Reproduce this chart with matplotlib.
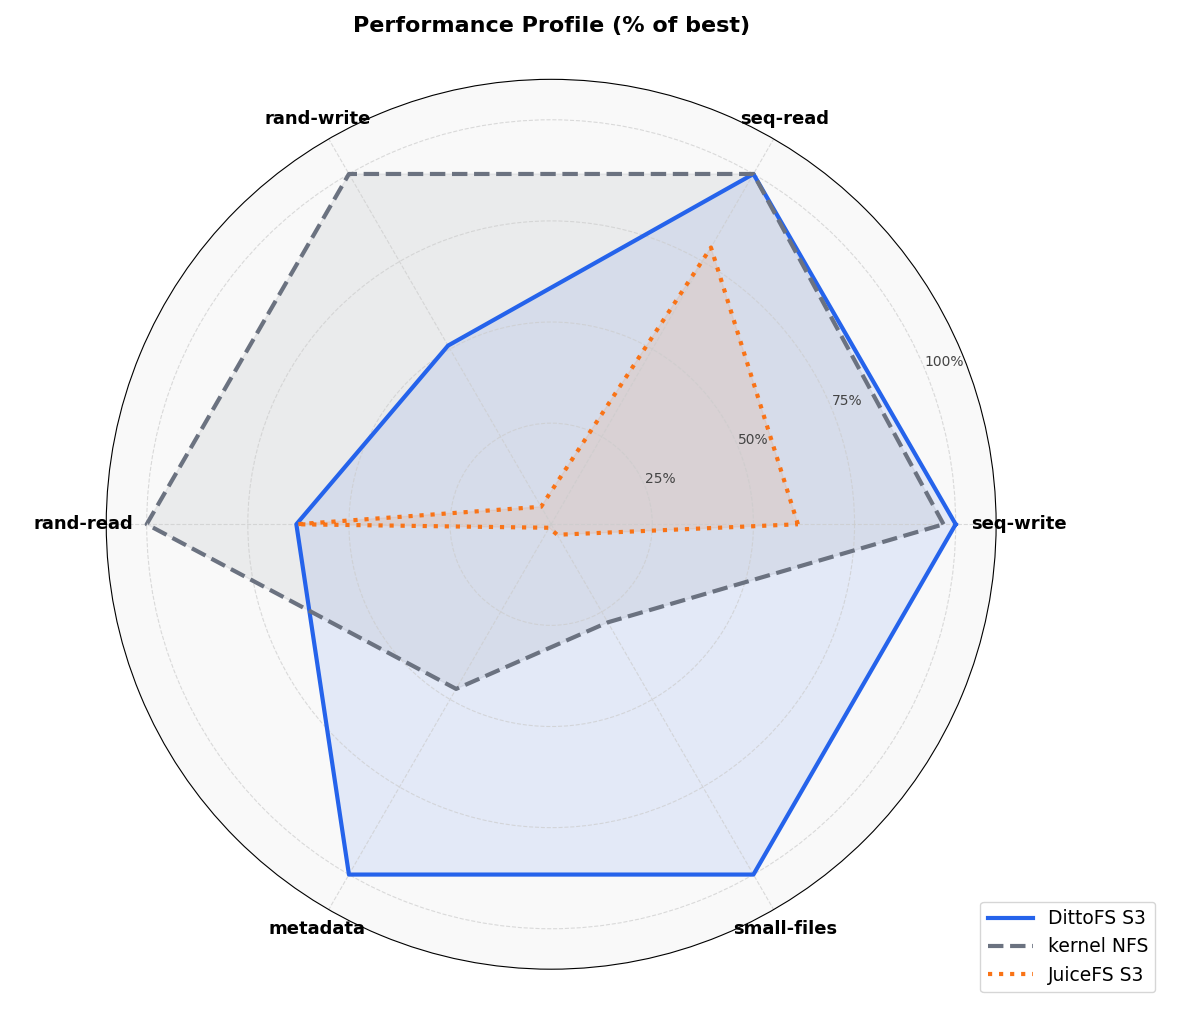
import numpy as np
import matplotlib.pyplot as plt

categories = ["seq-write", "seq-read", "rand-write", "rand-read", "metadata", "small-files"]
dittofs = [100, 100, 51, 63, 100, 100]
kernel_nfs = [97, 100, 100, 100, 47, 28]
juicefs = [61, 79, 5, 63, 1, 3]

series = [
    ("DittoFS S3", dittofs, "#2563eb", "-"),
    ("kernel NFS", kernel_nfs, "#6b7280", "--"),
    ("JuiceFS S3", juicefs, "#f97316", ":"),
]

angles = np.linspace(0, 2 * np.pi, len(categories), endpoint=False)
closed = np.concatenate([angles, angles[:1]])

fig = plt.figure(figsize=(11.79, 10.17), dpi=100)
ax = fig.add_axes([0.09, 0.047, 0.755, 0.875], projection="polar")
ax.set_facecolor("#f9f9f9")

for name, vals, color, ls in series:
    v = list(vals) + [vals[0]]
    ax.plot(closed, v, color=color, linestyle=ls, linewidth=3, label=name)
    ax.fill(closed, v, color=color, alpha=0.1)

ax.set_ylim(0, 110)
ax.set_yticks([25, 50, 75, 100])
ax.set_yticklabels(["25%", "50%", "75%", "100%"], fontsize=10, color="#444444")
ax.set_rlabel_position(22.5)
ax.set_xticks(angles)
ax.set_xticklabels(categories, fontsize=13, fontweight="bold")
ax.tick_params(axis="x", pad=6)
ax.grid(True, linestyle="--", color="#cccccc", alpha=0.7)
ax.set_title("Performance Profile (% of best)", fontsize=16, fontweight="bold", pad=34)
leg = ax.legend(loc="lower right", fontsize=13.5, handlelength=2.4,
                bbox_to_anchor=(1.164, 0.0), bbox_transform=fig.transFigure)
leg.set_bbox_to_anchor((0.988, 0.015), transform=fig.transFigure)

fig.savefig("out.png")
